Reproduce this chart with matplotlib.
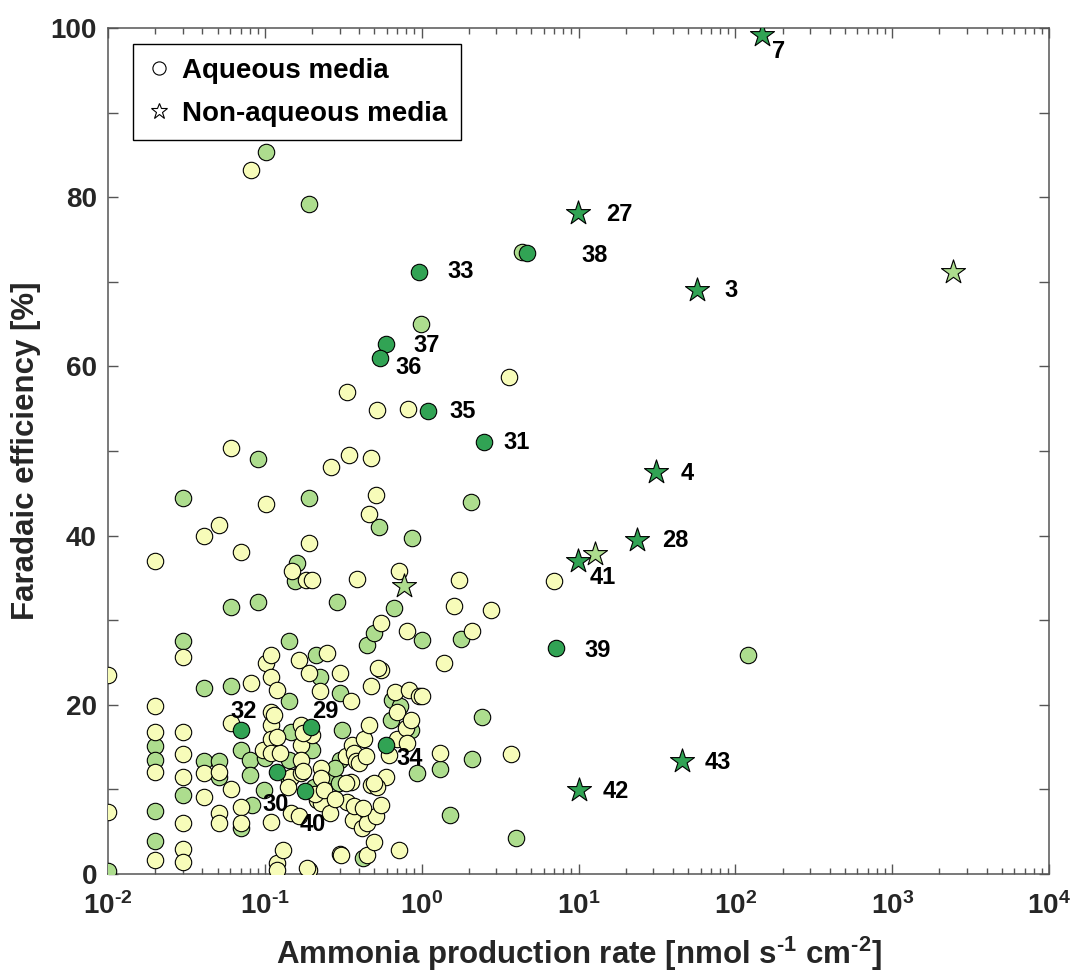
import matplotlib
matplotlib.use("Agg")
import matplotlib.pyplot as plt
from matplotlib.lines import Line2D
from matplotlib.ticker import MultipleLocator, LogLocator, NullFormatter, FixedLocator

plt.rcParams['font.family'] = ['Liberation Sans', 'DejaVu Sans']
plt.rcParams['font.weight'] = 'bold'
plt.rcParams['mathtext.fontset'] = 'custom'
plt.rcParams['mathtext.bf'] = 'Liberation Sans:bold'
plt.rcParams['mathtext.rm'] = 'Liberation Sans:bold'
plt.rcParams['mathtext.default'] = 'bf'

# ---------------- data ----------------
# Aqueous media, pale yellow group
yel_x = [0.01, 0.01,
         0.02, 0.02, 0.02, 0.02, 0.02,
         0.03, 0.03, 0.03, 0.03, 0.03, 0.03, 0.03,
         0.0407, 0.0407, 0.0407,
         0.0507, 0.0507, 0.0507, 0.0507,
         0.0607, 0.061, 0.061,
         0.0703, 0.07, 0.07,
         0.0815, 0.0815,
         0.097, 0.101, 0.101,
         0.109, 0.11, 0.11, 0.11, 0.11, 0.11, 0.109,
         0.12, 0.12, 0.12, 0.125,
         0.131, 0.146,
         0.15, 0.146, 0.14,
         0.165, 0.169, 0.17, 0.17, 0.17, 0.165,
         0.182, 0.19, 0.19, 0.20, 0.19, 0.20,
         0.224, 0.215, 0.227, 0.227, 0.227,
         0.25, 0.26, 0.263,
         0.30, 0.30, 0.305,
         0.328, 0.336, 0.333, 0.344,
         0.353, 0.36, 0.37, 0.353, 0.365,
         0.389, 0.38,
         0.40, 0.43, 0.46, 0.44,
         0.419, 0.45, 0.45,
         0.46, 0.473, 0.473, 0.473, 0.50, 0.509,
         0.514, 0.522, 0.548, 0.548, 0.53, 0.548,
         0.59, 0.62,
         0.68, 0.70, 0.716, 0.716,
         0.70, 0.80, 0.85, 0.81, 0.81, 0.818, 0.83, 0.96,
         1.01,
         1.31, 1.39, 1.61, 1.73, 2.1, 2.75, 3.6, 3.72, 6.97,
         0.52, 0.115, 0.175, 0.175, 0.21, 0.24, 0.33, 0.37, 0.42, 0.50, 0.12, 0.187, 0.28]
yel_y = [23.5, 7.3,
         37.0, 19.9, 16.8, 12.0, 1.7,
         25.6, 16.8, 14.2, 11.5, 6.0, 3.0, 1.4,
         39.9, 11.9, 9.1,
         41.3, 12.1, 7.2, 6.0,
         50.3, 17.8, 10.1,
         38.1, 7.95, 6.0,
         83.2, 22.6,
         14.7, 24.9, 43.7,
         25.9, 23.3, 19.1, 17.6, 15.9, 14.3, 6.2,
         21.8, 1.25, 0.5, 14.3,
         2.8, 7.2,
         35.8, 11.5, 10.3,
         25.3, 17.6, 15.3, 13.5, 11.9, 6.8,
         34.8, 39.1, 0.5, 16.4, 23.7, 34.8,
         21.6, 8.8, 12.5, 11.3, 8.4,
         26.1, 7.2, 48.1,
         23.7, 2.4, 2.2,
         13.9, 8.5, 57.0, 49.5,
         20.4, 15.3, 14.3, 10.9, 6.4,
         34.9, 13.3,
         13.1, 16.0, 17.6, 13.9,
         5.4, 2.2, 6.0,
         42.6, 49.2, 22.2, 10.5, 3.8, 6.8,
         44.8, 54.8, 29.7, 24.1, 24.4, 8.2,
         11.5, 14.1,
         21.5, 19.2, 35.8, 2.8,
         16.0, 17.2, 18.2, 15.5, 28.7, 55.0, 21.8, 21.0,
         21.0,
         14.3, 25.0, 31.7, 34.8, 28.7, 31.2, 58.8, 14.2, 34.6,
         10.3, 18.8, 12.2, 16.7, 9.4, 9.9, 10.8, 8.0, 7.8, 10.8, 16.2, 0.7, 8.9]

# Aqueous media, light green group
grn_x = [0.01,
         0.02, 0.02, 0.02, 0.02,
         0.03, 0.03, 0.03,
         0.0407, 0.0407,
         0.0507, 0.0507,
         0.061, 0.061,
         0.07, 0.07,
         0.081, 0.081, 0.083,
         0.091, 0.091,
         0.10, 0.099, 0.101,
         0.142, 0.142, 0.146, 0.142, 0.142,
         0.161, 0.155,
         0.192, 0.192,
         0.20, 0.205,
         0.211, 0.224,
         0.26, 0.297,
         0.288, 0.30, 0.312, 0.30, 0.28,
         0.42,
         0.45, 0.497, 0.535,
         0.665, 0.65, 0.635, 0.73, 0.85,
         0.873, 0.986,
         1.01, 0.94,
         1.31, 1.51, 1.77, 2.05, 2.1, 2.43, 3.98, 4.38, 121.0]
grn_y = [0.3,
         15.1, 13.5, 7.4, 3.9,
         27.5, 9.3, 44.4,
         22.0, 13.3,
         13.3, 11.5,
         31.6, 22.2,
         14.7, 5.4,
         13.5, 11.7, 8.2,
         32.1, 49.0,
         13.7, 9.9, 85.3,
         27.5, 20.4, 16.8, 13.5, 11.1,
         36.8, 34.6,
         79.2, 44.5,
         14.7, 10.3,
         25.9, 23.3,
         11.7, 10.7,
         32.1, 21.4, 17.0, 13.5, 12.5,
         1.9,
         27.1, 28.5, 41.0,
         31.4, 20.6, 18.2, 19.8, 17.0,
         39.7, 65.0,
         27.7, 11.9,
         12.4, 7.0, 27.8, 44.0, 13.6, 18.6, 4.2, 73.5, 25.9]

# Aqueous media, labelled (dark green)
dark_lab = ['33', '38', '37', '36', '35', '31', '39', '32', '29', '34', '30', '40']
dark_x = [0.96, 4.7, 0.59, 0.54, 1.09, 2.5, 7.2, 0.070, 0.197, 0.59, 0.12, 0.18]
dark_y = [71.2, 73.4, 62.7, 61.0, 54.7, 51.1, 26.7, 17.0, 17.4, 15.2, 12.1, 9.8]

# Non-aqueous media, labelled stars (dark green)
star_lab = ['7', '27', '3', '4', '28', '41', '43', '42']
star_x = [148.0, 9.9, 57.0, 31.0, 23.5, 9.9, 45.5, 10.0]
star_y = [99.2, 78.1, 69.0, 47.5, 39.5, 37.0, 13.3, 9.9]

# Non-aqueous media, light green stars
lstar_x = [2450.0, 12.8, 0.77]
lstar_y = [71.1, 37.8, 34.1]

# tick labels
HY = '\u2010'
xtick_vals = [1e-2, 1e-1, 1e0, 1e1, 1e2, 1e3, 1e4]
xtick_labels = [r'$10^{%s2}$' % HY, r'$10^{%s1}$' % HY, r'$10^{0}$', r'$10^{1}$',
                r'$10^{2}$', r'$10^{3}$', r'$10^{4}$']

# label offsets (pixels)
dark_off = [(42, 0), (68, -2), (41, -2), (29, -10), (35, 0), (33, -1), (41, -2),
            (3, 19), (14, 15), (24, -13), (-2, -33), (8, -33)]
star_off = [(17, -17), (41, -1), (34, 0), (32, -1), (39, -1), (25, -17), (36, -1), (37, -1)]

C_Y = '#f7fcb9'
C_G = '#addd8e'
C_D = '#31a354'

fig = plt.figure(figsize=(10.70, 9.72), dpi=100)
ax = fig.add_axes([108/1070, 98/972, (1049-108)/1070, (874-28)/972])

s_c = 140
lw = 0.8
ax.scatter(grn_x, grn_y, s=s_c, c=C_G, edgecolors='black', linewidths=lw, zorder=3)
ax.scatter(yel_x, yel_y, s=s_c, c=C_Y, edgecolors='black', linewidths=lw, zorder=3)
ax.scatter(dark_x, dark_y, s=s_c, c=C_D, edgecolors='black', linewidths=lw, zorder=4)
ax.scatter(lstar_x, lstar_y, s=330, marker='*', c=C_G, edgecolors='black', linewidths=lw, zorder=4)
ax.scatter(star_x, star_y, s=330, marker='*', c=C_D, edgecolors='black', linewidths=lw, zorder=4)

for lab, x, y, off in zip(dark_lab, dark_x, dark_y, dark_off):
    ax.annotate(lab, (x, y), xytext=off, textcoords='offset pixels', ha='center', va='center',
                fontsize=17, fontweight='bold', color='black', zorder=6)
for lab, x, y, off in zip(star_lab, star_x, star_y, star_off):
    ax.annotate(lab, (x, y), xytext=off, textcoords='offset pixels', ha='center', va='center',
                fontsize=17, fontweight='bold', color='black', zorder=6)

ax.set_xscale('log')
ax.set_xlim(1e-2, 1e4)
ax.set_ylim(0, 100)
ax.xaxis.set_major_locator(FixedLocator(xtick_vals))
ax.set_xticklabels(xtick_labels)
ax.xaxis.set_minor_locator(LogLocator(base=10, subs=[2, 3, 4, 5, 6, 7, 8, 9], numticks=20))
ax.xaxis.set_minor_formatter(NullFormatter())
ax.yaxis.set_major_locator(MultipleLocator(20))
ax.yaxis.set_minor_locator(MultipleLocator(10))

axcol = '#555555'
for sp in ax.spines.values():
    sp.set_color(axcol)
    sp.set_linewidth(1.1)
ax.tick_params(which='both', direction='in', top=True, right=True, color=axcol, width=1.0)
ax.tick_params(which='major', length=7, labelsize=20, labelcolor='#262626')
ax.tick_params(axis='y', which='major', pad=8)
ax.tick_params(axis='x', which='major', pad=13)
ax.tick_params(axis='x', which='minor', length=4)
ax.tick_params(axis='y', which='minor', length=7)
for t in ax.get_yticklabels():
    t.set_fontweight('bold')

ax.set_xlabel('Ammonia production rate [nmol s$^{%s1}$ cm$^{%s2}$]' % (HY, HY), fontsize=22.5,
              fontweight='bold', color='#262626', labelpad=11)
ax.set_ylabel('Faradaic efficiency [%]', fontsize=22.5, fontweight='bold', color='#262626',
              labelpad=7)

handles = [Line2D([], [], linestyle='none', marker='o', markersize=9.5, markerfacecolor='white',
                  markeredgecolor='black', markeredgewidth=0.8, label='Aqueous media'),
           Line2D([], [], linestyle='none', marker='*', markersize=12, markerfacecolor='white',
                  markeredgecolor='black', markeredgewidth=0.8, label='Non-aqueous media')]
leg = ax.legend(handles=handles, loc='upper left', bbox_to_anchor=(133/1070, 1 - 44/972),
                bbox_transform=fig.transFigure, borderaxespad=0, fancybox=False,
                edgecolor='black', framealpha=1, handlelength=0.9,
                handletextpad=0.35, borderpad=0.5, labelspacing=0.6,
                prop={'weight': 'bold', 'size': 20})
leg.get_frame().set_linewidth(1.0)

fig.savefig('out.png', dpi=100)
